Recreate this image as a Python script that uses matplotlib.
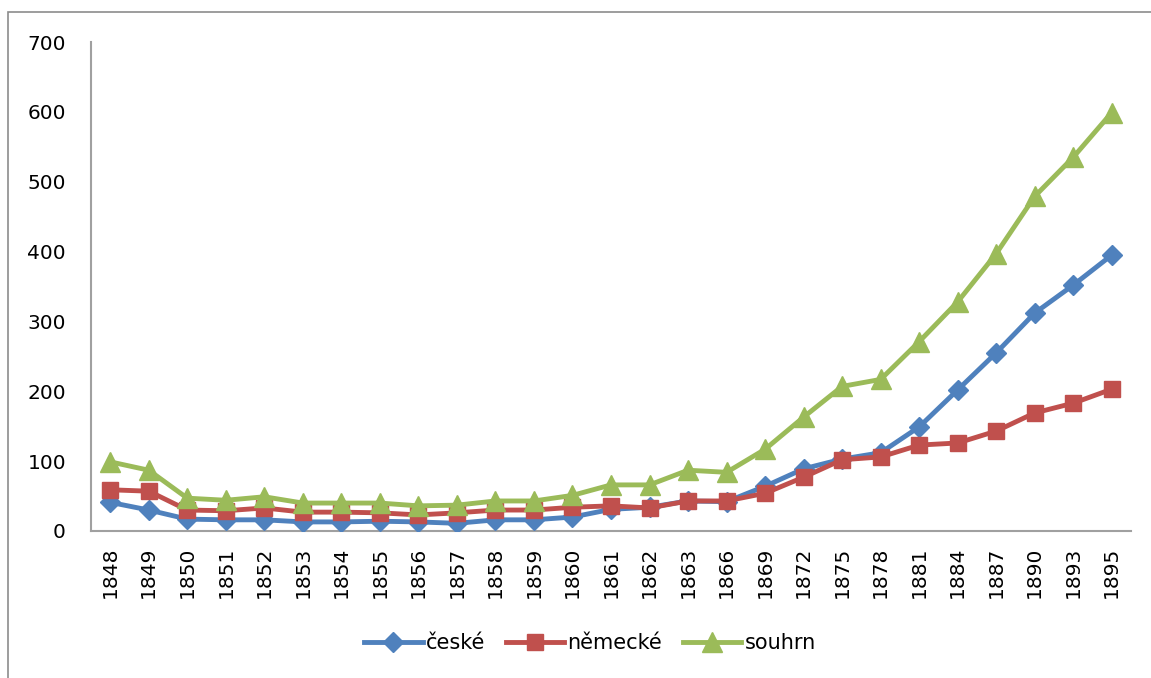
import matplotlib
matplotlib.use("Agg")
import matplotlib.pyplot as plt
from matplotlib.patches import Rectangle

years = ["1848", "1849", "1850", "1851", "1852", "1853", "1854", "1855", "1856", "1857",
         "1858", "1859", "1860", "1861", "1862", "1863", "1866", "1869", "1872", "1875",
         "1878", "1881", "1884", "1887", "1890", "1893", "1895"]
ceske = [41, 30, 17, 16, 16, 13, 13, 14, 13, 11, 16, 16, 20, 31, 34, 43, 42, 64, 89, 103,
         112, 149, 202, 255, 312, 352, 395]
nemecke = [59, 57, 30, 29, 33, 27, 27, 26, 23, 26, 30, 30, 34, 36, 33, 43, 43, 54, 77, 102,
           106, 123, 126, 143, 169, 183, 203]
souhrn = [99, 87, 47, 44, 49, 40, 40, 40, 36, 37, 43, 43, 51, 66, 66, 87, 84, 117, 163, 207,
          217, 271, 328, 397, 479, 535, 599]

W, H = 1151, 678
fig = plt.figure(figsize=(W / 100, H / 100), dpi=100)
fig.patches.append(Rectangle((8 / W, -0.2), 1.5, 1.2 - 12 / H, transform=fig.transFigure,
                             fill=False, edgecolor="#8c8c8c", linewidth=1.2))

left, right, top, bottom = 91, 1131, 42, 531
ax = fig.add_axes([left / W, 1 - bottom / H, (right - left) / W, (bottom - top) / H])

x = list(range(len(years)))
lw = 3.5
ax.plot(x, ceske, color="#4F81BD", lw=lw, marker="D", ms=10, label="české", zorder=3)
ax.plot(x, nemecke, color="#C0504D", lw=lw, marker="s", ms=12, label="německé", zorder=4)
ax.plot(x, souhrn, color="#9BBB59", lw=lw, marker="^", ms=14, label="souhrn", zorder=5)

ax.set_xlim(-0.5, len(years) - 0.5)
ax.set_ylim(0, 700)
ax.set_yticks(range(0, 701, 100))
ax.set_xticks(x)
ax.set_xticklabels(years, rotation=90)
ax.tick_params(axis="both", length=0, labelsize=14.5, colors="black")
ax.tick_params(axis="y", pad=18)
ax.tick_params(axis="x", pad=11)
for s in ["top", "right"]:
    ax.spines[s].set_visible(False)
for s in ["left", "bottom"]:
    ax.spines[s].set_color("#a0a0a0")
    ax.spines[s].set_linewidth(1.5)

leg = fig.legend(loc="center", bbox_to_anchor=(590 / W, 1 - 643 / H), ncol=3, frameon=False,
                 fontsize=15, handlelength=2.8, handletextpad=0.15, columnspacing=1.0)

fig.savefig("out.png", dpi=100)
